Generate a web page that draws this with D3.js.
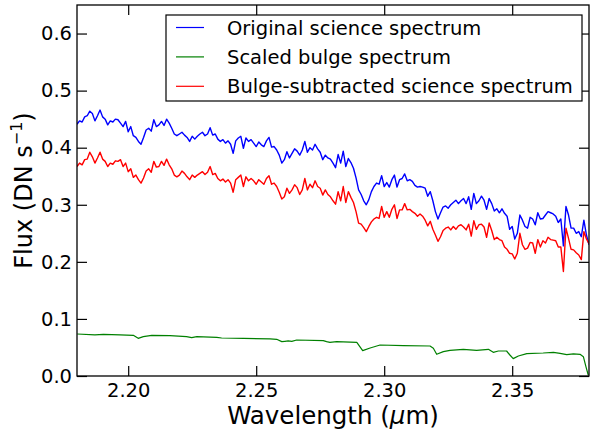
<!DOCTYPE html>
<html>
<head>
<meta charset="utf-8">
<script src="https://cdn.jsdelivr.net/npm/d3@7"></script>
<style>
  body { margin: 0; background: #fff; }
  svg text { font-family: "DejaVu Sans", sans-serif; fill: #000; }
</style>
</head>
<body>
<div id="chart"></div>
<script>
// wavelength grid of the science spectrum (micron)
var wave = [
  2.180,2.181,2.182,2.183,2.184,2.185,2.186,2.187,2.188,2.189,
  2.190,2.191,2.192,2.193,2.194,2.195,2.196,2.197,2.198,2.199,
  2.200,2.201,2.202,2.203,2.204,2.205,2.206,2.207,2.208,2.209,
  2.210,2.211,2.212,2.213,2.214,2.215,2.216,2.217,2.218,2.219,
  2.220,2.221,2.222,2.223,2.224,2.225,2.226,2.227,2.228,2.229,
  2.230,2.231,2.232,2.233,2.234,2.235,2.236,2.237,2.238,2.239,
  2.240,2.241,2.242,2.243,2.244,2.245,2.246,2.247,2.248,2.249,
  2.250,2.251,2.252,2.253,2.254,2.255,2.256,2.257,2.258,2.259,
  2.260,2.261,2.262,2.263,2.264,2.265,2.266,2.267,2.268,2.269,
  2.270,2.271,2.272,2.273,2.274,2.275,2.276,2.277,2.278,2.279,
  2.280,2.281,2.282,2.283,2.284,2.285,2.286,2.287,2.288,2.289,
  2.290,2.291,2.292,2.293,2.294,2.295,2.296,2.297,2.298,2.299,
  2.300,2.301,2.302,2.303,2.304,2.305,2.306,2.307,2.308,2.309,
  2.310,2.311,2.312,2.313,2.314,2.315,2.316,2.317,2.318,2.319,
  2.320,2.321,2.322,2.323,2.324,2.325,2.326,2.327,2.328,2.329,
  2.330,2.331,2.332,2.333,2.334,2.335,2.336,2.337,2.338,2.339,
  2.340,2.341,2.342,2.343,2.344,2.345,2.346,2.347,2.348,2.349,
  2.350,2.351,2.352,2.353,2.354,2.355,2.356,2.357,2.358,2.359,
  2.360,2.361,2.362,2.363,2.364,2.365,2.366,2.367,2.368,2.369,
  2.370,2.371,2.372,2.373,2.374,2.375,2.376,2.377,2.378,2.379,
  2.380
];

// original science spectrum (blue)
var original = [
  0.441,0.447,0.445,0.454,0.456,0.464,0.460,0.447,0.456,0.466,
  0.454,0.450,0.440,0.447,0.445,0.450,0.449,0.443,0.437,0.446,
  0.428,0.437,0.421,0.418,0.411,0.406,0.418,0.431,0.434,0.429,
  0.449,0.437,0.440,0.446,0.439,0.450,0.443,0.434,0.424,0.421,
  0.424,0.427,0.422,0.418,0.411,0.420,0.415,0.420,0.424,0.427,
  0.421,0.424,0.435,0.422,0.424,0.415,0.411,0.414,0.408,0.412,
  0.406,0.390,0.412,0.417,0.420,0.399,0.417,0.411,0.414,0.408,
  0.402,0.410,0.405,0.402,0.412,0.418,0.401,0.402,0.396,0.387,
  0.373,0.379,0.393,0.382,0.390,0.398,0.394,0.387,0.396,0.411,
  0.392,0.400,0.396,0.406,0.398,0.392,0.379,0.387,0.382,0.380,
  0.373,0.365,0.388,0.373,0.394,0.367,0.381,0.374,0.364,0.347,
  0.326,0.318,0.307,0.300,0.309,0.323,0.332,0.338,0.336,0.351,
  0.332,0.339,0.331,0.344,0.352,0.331,0.344,0.346,0.354,0.342,
  0.344,0.341,0.334,0.331,0.332,0.331,0.329,0.315,0.323,0.307,
  0.288,0.275,0.286,0.296,0.298,0.294,0.300,0.304,0.308,0.302,
  0.307,0.311,0.302,0.314,0.292,0.320,0.302,0.307,0.315,0.308,
  0.292,0.311,0.302,0.289,0.293,0.286,0.293,0.285,0.280,0.257,
  0.262,0.240,0.250,0.282,0.273,0.262,0.259,0.278,0.275,0.265,
  0.286,0.275,0.276,0.282,0.288,0.286,0.284,0.280,0.269,0.275,
  0.228,0.297,0.282,0.259,0.259,0.250,0.253,0.244,0.273,0.247,
  0.230
];

// bulge-subtracted science spectrum (red)
var subtracted = [
  0.367,0.373,0.370,0.379,0.380,0.392,0.384,0.373,0.382,0.392,
  0.380,0.376,0.367,0.373,0.371,0.377,0.376,0.379,0.367,0.373,
  0.358,0.363,0.348,0.352,0.344,0.338,0.347,0.359,0.363,0.357,
  0.376,0.366,0.367,0.376,0.369,0.380,0.370,0.363,0.352,0.349,
  0.352,0.359,0.355,0.349,0.344,0.352,0.348,0.352,0.355,0.358,
  0.353,0.357,0.367,0.353,0.355,0.346,0.342,0.345,0.340,0.344,
  0.338,0.322,0.344,0.348,0.352,0.332,0.349,0.342,0.346,0.342,
  0.336,0.344,0.340,0.336,0.346,0.351,0.336,0.338,0.332,0.322,
  0.310,0.314,0.329,0.320,0.326,0.335,0.330,0.318,0.326,0.346,
  0.326,0.336,0.330,0.342,0.332,0.329,0.317,0.326,0.318,0.314,
  0.307,0.301,0.323,0.307,0.332,0.304,0.323,0.313,0.304,0.288,
  0.268,0.266,0.260,0.253,0.262,0.270,0.275,0.278,0.276,0.297,
  0.278,0.288,0.278,0.292,0.300,0.276,0.291,0.291,0.302,0.291,
  0.292,0.288,0.285,0.280,0.284,0.280,0.273,0.263,0.271,0.257,
  0.247,0.236,0.244,0.255,0.259,0.261,0.256,0.262,0.257,0.263,
  0.265,0.261,0.256,0.266,0.245,0.272,0.257,0.265,0.266,0.261,
  0.243,0.268,0.255,0.239,0.243,0.239,0.237,0.226,0.222,0.215,
  0.214,0.205,0.215,0.250,0.230,0.222,0.224,0.234,0.233,0.215,
  0.239,0.226,0.237,0.233,0.243,0.239,0.238,0.237,0.226,0.226,
  0.183,0.259,0.241,0.222,0.221,0.216,0.212,0.204,0.253,0.240,
  0.232
];

// scaled bulge spectrum (green), its own sampling
var bulgeWave = [
  2.1801,2.1870,2.1903,2.1968,2.2020,2.2039,2.2059,2.2092,2.2163,2.2228,
  2.2248,2.2268,2.2346,2.2365,2.2450,2.2554,2.2580,2.2600,2.2612,2.2625,
  2.2639,2.2658,2.2762,2.2775,2.2788,2.2814,2.2893,2.2916,2.2945,2.2984,
  2.3075,2.3179,2.3192,2.3205,2.3231,2.3257,2.3309,2.3361,2.3407,2.3426,
  2.3446,2.3478,2.3491,2.3504,2.3524,2.3557,2.3621,2.3661,2.3687,2.3713,
  2.3739,2.3765,2.3778,2.3788,2.3797
];
var bulge = [
  0.0736,0.0719,0.0730,0.0719,0.0713,0.0660,0.0689,0.0713,0.0707,0.0689,
  0.0672,0.0689,0.0678,0.0666,0.0660,0.0649,0.0643,0.0602,0.0608,0.0615,
  0.0608,0.0631,0.0620,0.0602,0.0590,0.0602,0.0590,0.0444,0.0491,0.0543,
  0.0532,0.0526,0.0485,0.0380,0.0427,0.0450,0.0467,0.0450,0.0467,0.0415,
  0.0438,0.0438,0.0368,0.0304,0.0351,0.0392,0.0403,0.0415,0.0397,0.0374,
  0.0386,0.0380,0.0339,0.0164,0.0018
];

var xTicks = [2.20, 2.25, 2.30, 2.35];
var yTicks = [0.0, 0.1, 0.2, 0.3, 0.4, 0.5, 0.6];
var legendLabels = ["Original science spectrum", "Scaled bulge spectrum", "Bulge-subtracted science spectrum"];
var colors = ["#0000ff", "#008000", "#ff0000"];

var W = 592, H = 430;
var margin = {top: 5, right: 3, bottom: 54, left: 77},
    width = W - margin.left - margin.right,
    height = H - margin.top - margin.bottom;

var svg = d3.select("#chart")
  .append("svg")
    .attr("width", W)
    .attr("height", H)
  .append("g")
    .attr("transform", "translate(" + margin.left + "," + margin.top + ")");

var x = d3.scaleLinear().domain([2.18, 2.38]).range([0, width]);
var y = d3.scaleLinear().domain([0, 0.65]).range([height, 0]);

// lines
var line = d3.line()
  .x(function(d) { return x(d[0]); })
  .y(function(d) { return y(d[1]); });

var series = [
  d3.zip(wave, original),
  d3.zip(bulgeWave, bulge),
  d3.zip(wave, subtracted)
];

svg.append("defs").append("clipPath").attr("id", "clip")
  .append("rect").attr("width", width).attr("height", height);

svg.append("g").attr("clip-path", "url(#clip)")
  .selectAll("path")
  .data(series)
  .join("path")
    .attr("fill", "none")
    .attr("stroke", function(d, i) { return colors[i]; })
    .attr("stroke-width", function(d, i) { return i == 1 ? 1.2 : 1.4; })
    .attr("stroke-linejoin", "round")
    .attr("d", line);

// axes, ticks pointing inward on all four sides
var fs = "19.5px";
var gx = svg.append("g")
  .attr("transform", "translate(0," + height + ")")
  .call(d3.axisBottom(x).tickValues(xTicks).tickFormat(d3.format(".2f"))
    .tickSizeInner(-10).tickSizeOuter(0).tickPadding(7));
var gy = svg.append("g")
  .call(d3.axisLeft(y).tickValues(yTicks).tickFormat(d3.format(".1f"))
    .tickSizeInner(-10).tickSizeOuter(0).tickPadding(5));
var gt = svg.append("g")
  .call(d3.axisTop(x).tickValues(xTicks).tickFormat("")
    .tickSizeInner(-10).tickSizeOuter(0));
var gr = svg.append("g")
  .attr("transform", "translate(" + width + ",0)")
  .call(d3.axisRight(y).tickValues(yTicks).tickFormat("")
    .tickSizeInner(-10).tickSizeOuter(0));

[gx, gy, gt, gr].forEach(function(g) {
  g.select(".domain").remove();
  g.selectAll("line").attr("stroke", "#000").attr("stroke-width", 1.2);
  g.selectAll("text").style("font-size", fs).style("font-family", "DejaVu Sans");
});

// frame
svg.append("rect")
  .attr("width", width)
  .attr("height", height)
  .attr("fill", "none")
  .attr("stroke", "#000")
  .attr("stroke-width", 1.3);

// axis labels
var xl = svg.append("text")
  .attr("x", width / 2)
  .attr("y", height + 48)
  .attr("text-anchor", "middle")
  .style("font-size", "24.5px");
xl.append("tspan").text("Wavelength (");
xl.append("tspan").style("font-style", "italic").text("\u03bc");
xl.append("tspan").text("m)");

var yl = svg.append("text")
  .attr("transform", "translate(" + (-45) + "," + (height / 2) + ")rotate(-90)")
  .attr("text-anchor", "middle")
  .style("font-size", "24px");
yl.append("tspan").text("Flux (DN s");
yl.append("tspan").attr("dy", -10).style("font-size", "16px").text("\u22121");
yl.append("tspan").attr("dy", 10).text(")");

// legend
var legend = svg.append("g").attr("transform", "translate(" + (166 - margin.left) + "," + (15 - margin.top) + ")");
legend.append("rect")
  .attr("width", 416)
  .attr("height", 86)
  .attr("fill", "#fff")
  .attr("stroke", "#000")
  .attr("stroke-width", 1.2);
legendLabels.forEach(function(lab, i) {
  var ry = 12.5 + i * 29.4;
  legend.append("line")
    .attr("x1", 10).attr("x2", 38)
    .attr("y1", ry).attr("y2", ry)
    .attr("stroke", colors[i])
    .attr("stroke-width", 1.2);
  legend.append("text")
    .attr("x", 61)
    .attr("y", ry + 7)
    .style("font-size", "19.5px")
    .text(lab);
});
</script>
</body>
</html>
